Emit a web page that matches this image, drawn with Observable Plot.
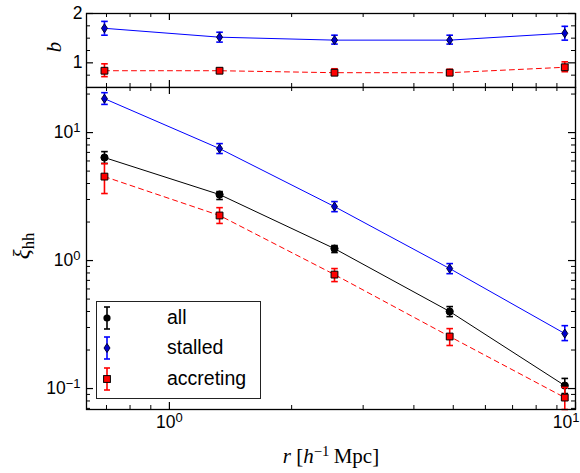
<!DOCTYPE html>
<html><head><meta charset="utf-8">
<script src="https://cdn.jsdelivr.net/npm/d3@7"></script>
<script src="https://cdn.jsdelivr.net/npm/@observablehq/plot@0.6"></script>
<style>
body{margin:0;background:#fff;}
#chart{position:relative;width:580px;height:473px;overflow:hidden;font-family:"Liberation Sans",Arial,sans-serif;}
#chart svg{position:absolute;left:0;top:0;}
.lbl{position:absolute;font-family:"Liberation Serif","DejaVu Serif",serif;white-space:nowrap;color:#000;line-height:1;transform-origin:center;}
#legend{position:absolute;left:96px;top:301px;width:163px;height:96px;border:1px solid #222;background:#fff;}
.lrow{position:absolute;left:0;height:30px;width:163px;}
.lrow svg{position:absolute;left:20px;top:0;}
.lrow span{position:absolute;left:70px;top:3px;font-size:19.5px;font-family:"Liberation Sans",Arial,sans-serif;}
</style></head><body><div id="chart"></div>
<script>
// ---- data ----
const r = [0.692, 1.329, 2.55, 4.90, 9.41];
// bias b (top panel)
const bStalled     = [1.70, 1.52, 1.46, 1.46, 1.60];
const bStalledLo   = [1.56, 1.42, 1.38, 1.38, 1.46];
const bStalledHi   = [1.84, 1.62, 1.56, 1.56, 1.74];
const bAccreting   = [0.84, 0.84, 0.80, 0.80, 0.91];
const bAccretingLo = [0.72, 0.79, 0.76, 0.76, 0.82];
const bAccretingHi = [0.98, 0.89, 0.88, 0.87, 1.02];
// xi_hh (bottom panel)
const xiAll         = [6.38, 3.28, 1.24, 0.40, 0.1055];
const xiAllLo       = [5.74, 3.00, 1.155, 0.365, 0.0914];
const xiAllHi       = [7.10, 3.46, 1.31, 0.437, 0.120];
const xiStalled     = [18.4, 7.50, 2.64, 0.866, 0.269];
const xiStalledLo   = [16.6, 6.86, 2.41, 0.79, 0.237];
const xiStalledHi   = [20.5, 8.20, 2.89, 0.947, 0.310];
const xiAccreting   = [4.53, 2.25, 0.777, 0.255, 0.085];
const xiAccretingLo = [3.34, 1.95, 0.685, 0.217, 0.0686];
const xiAccretingHi = [5.72, 2.59, 0.866, 0.294, 0.102];
const seriesNames = ["all", "stalled", "accreting"];
const xMajor = [1, 10];
const xMinor = [0.7, 0.8, 0.9, 2, 3, 4, 5, 6, 7, 8, 9];
const xTickLabels = ["10^0", "10^1"];
const bMajor = [1, 2];
const bMinor = [0.75, 1.25, 1.5, 1.75];
const bTickLabels = ["1", "2"];
const xiMajor = [0.1, 1, 10];
const xiMinor = [0.07, 0.08, 0.09, 0.2, 0.3, 0.4, 0.5, 0.6, 0.7, 0.8, 0.9, 2, 3, 4, 5, 6, 7, 8, 9, 20];
const xiTickLabels = ["10^-1", "10^0", "10^1"];

// ---- styles ----
const diamond = {draw(ctx, size){const s=Math.sqrt(size/Math.PI); ctx.moveTo(0,-1.5*s); ctx.lineTo(s,0); ctx.lineTo(0,1.5*s); ctx.lineTo(-s,0); ctx.closePath();}};
const cap = {draw(ctx, size){const s=Math.sqrt(size/Math.PI); ctx.moveTo(-s,0); ctx.lineTo(s,0);}};
const square = {draw(ctx, size){const s=Math.sqrt(size/Math.PI); ctx.rect(-s,-s,2*s,2*s);}};
const styles = {
  all:       {color:"#000000", dash:null, symbol:"circle", r:3.6, fill:"#000", edge:"#000"},
  stalled:   {color:"#0000ff", dash:null, symbol:diamond, r:3.0, fill:"#0000cc", edge:"#000033"},
  accreting: {color:"#ff0000", dash:"5,4", symbol:square, r:3.4, fill:"#ff0000", edge:"#000"}
};
const rows = (v, lo, hi) => r.map((x, i) => ({r: x, v: v[i], lo: lo[i], hi: hi[i]}));

function seriesMarks(data, st){
  return [
    Plot.line(data, {x:"r", y:"v", stroke: st.color, strokeWidth: 1, strokeDasharray: st.dash}),
    Plot.ruleX(data, {x:"r", y1:"lo", y2:"hi", stroke: st.color, strokeWidth: 1.6}),
    Plot.dot(data, {x:"r", y:"lo", symbol: cap, r: 3.3, stroke: st.color, fill:"none", strokeWidth: 1.6}),
    Plot.dot(data, {x:"r", y:"hi", symbol: cap, r: 3.3, stroke: st.color, fill:"none", strokeWidth: 1.6}),
    Plot.dot(data, {x:"r", y:"v", symbol: st.symbol, r: st.r, fill: st.fill, stroke: st.edge, strokeWidth: 1})
  ];
}
function tickMarks(innerW, innerH, yMaj, yMin){
  const M = 7, m = 4;
  return [
    Plot.ruleX(xMajor, {x: d=>d, insetTop: innerH - M, strokeWidth: 1.2}),
    Plot.ruleX(xMajor, {x: d=>d, insetBottom: innerH - M, strokeWidth: 1.2}),
    Plot.ruleX(xMinor, {x: d=>d, insetTop: innerH - m, strokeWidth: 1}),
    Plot.ruleX(xMinor, {x: d=>d, insetBottom: innerH - m, strokeWidth: 1}),
    Plot.ruleY(yMaj, {y: d=>d, insetRight: innerW - M, strokeWidth: 1.2}),
    Plot.ruleY(yMaj, {y: d=>d, insetLeft: innerW - M, strokeWidth: 1.2}),
    Plot.ruleY(yMin, {y: d=>d, insetRight: innerW - m, strokeWidth: 1}),
    Plot.ruleY(yMin, {y: d=>d, insetLeft: innerW - m, strokeWidth: 1})
  ];
}

const W = 580, ML = 86, MR = 5, innerW = W - ML - MR;
const baseStyle = {background:"transparent", fontFamily:"Liberation Sans, Arial, sans-serif", fontSize:"17px", color:"#000"};

const bottom = Plot.plot({
  width: W, height: 473, marginTop: 87, marginBottom: 64, marginLeft: ML, marginRight: MR,
  style: baseStyle,
  x: {type:"log", domain:[0.625, 10], axis: null},
  y: {type:"log", domain:[0.0686, 22.5], axis: null},
  marks: [
    ...seriesMarks(rows(xiAll, xiAllLo, xiAllHi), styles.all),
    ...seriesMarks(rows(xiStalled, xiStalledLo, xiStalledHi), styles.stalled),
    ...seriesMarks(rows(xiAccreting, xiAccretingLo, xiAccretingHi), styles.accreting),
    ...tickMarks(innerW, 473 - 87 - 64, xiMajor, xiMinor),
    Plot.frame({stroke:"#000", strokeWidth: 1.3}),
    Plot.text(xiMajor, {y: d=>d, text: (d, i) => xiTickLabels[i], frameAnchor:"left", textAnchor:"end", dx:-6, fontSize:17.5}),
    Plot.text(xMajor.slice(0, 1), {x: d=>d, text: (d, i) => xTickLabels[i], frameAnchor:"bottom", dy:18, fontSize:17.5}),
    Plot.text(xMajor.slice(1), {x: d=>d, text: (d, i) => xTickLabels[i + 1], frameAnchor:"bottom", textAnchor:"end", dx:4, dy:18, fontSize:17.5})
  ]
});

const topPanel = Plot.plot({
  width: W, height: 88, marginTop: 13, marginBottom: 1, marginLeft: ML, marginRight: MR,
  style: baseStyle,
  x: {type:"log", domain:[0.625, 10], axis: null},
  y: {domain:[0.5, 2], axis: null},
  marks: [
    ...seriesMarks(rows(bStalled, bStalledLo, bStalledHi), styles.stalled),
    ...seriesMarks(rows(bAccreting, bAccretingLo, bAccretingHi), styles.accreting),
    ...tickMarks(innerW, 88 - 13 - 1, bMajor, bMinor),
    Plot.frame({stroke:"#000", strokeWidth: 1.3}),
    Plot.text(bMajor, {y: d=>d, text: (d, i) => bTickLabels[i], frameAnchor:"left", textAnchor:"end", dx:-4, fontSize:17.5})
  ]
});

const chart = document.getElementById("chart");
chart.appendChild(bottom);
chart.appendChild(topPanel);

// superscripts for "10^k" tick labels
for (const t of chart.querySelectorAll("svg text")) {
  const m = /^10\^(-?\d+)$/.exec(t.textContent);
  if (!m) continue;
  t.textContent = "10";
  const ts = document.createElementNS("http://www.w3.org/2000/svg", "tspan");
  ts.setAttribute("dy", "-0.45em");
  ts.setAttribute("font-size", "13");
  ts.textContent = m[1].replace("-", "\u2212");
  t.appendChild(ts);
}

// axis titles
function addLabel(html, cx, cy, size, rot){
  const d = document.createElement("div");
  d.className = "lbl";
  d.innerHTML = html;
  d.style.fontSize = size + "px";
  d.style.left = cx + "px";
  d.style.top = cy + "px";
  d.style.transform = "translate(-50%,-50%)" + (rot ? " rotate(-90deg)" : "");
  chart.appendChild(d);
}
addLabel("<i>b</i>", 54, 47, 21, true);
addLabel("<i>ξ</i><span style='font-size:0.72em;position:relative;top:0.3em'>hh</span>", 21, 246, 23, true);
addLabel("<i>r</i> [<i>h</i><span style='font-size:0.7em;position:relative;top:-0.5em'>−1</span>&#8201;Mpc]", 331, 456, 21, false);

// legend
const legend = document.createElement("div");
legend.id = "legend";
const rowTops = [1, 31, 62];
seriesNames.forEach((name, i) => {
  const st = styles[name];
  const row = document.createElement("div");
  row.className = "lrow";
  row.style.top = rowTops[i] + "px";
  let marker;
  if (name === "all") marker = `<circle cx="10" cy="15" r="3.6" fill="#000"/>`;
  else if (name === "stalled") marker = `<path d="M10,10.5L13,15L10,19.5L7,15Z" fill="${st.fill}" stroke="${st.edge}" stroke-width="1"/>`;
  else marker = `<rect x="6.6" y="11.6" width="6.8" height="6.8" fill="${st.fill}" stroke="#000" stroke-width="1"/>`;
  row.innerHTML = `<svg width="20" height="30"><g stroke="${st.color}" stroke-width="1.6"><line x1="10" x2="10" y1="4" y2="26"/><line x1="7" x2="13" y1="4" y2="4"/><line x1="7" x2="13" y1="26" y2="26"/></g>${marker}</svg><span>${name}</span>`;
  legend.appendChild(row);
});
chart.appendChild(legend);
</script></body></html>
